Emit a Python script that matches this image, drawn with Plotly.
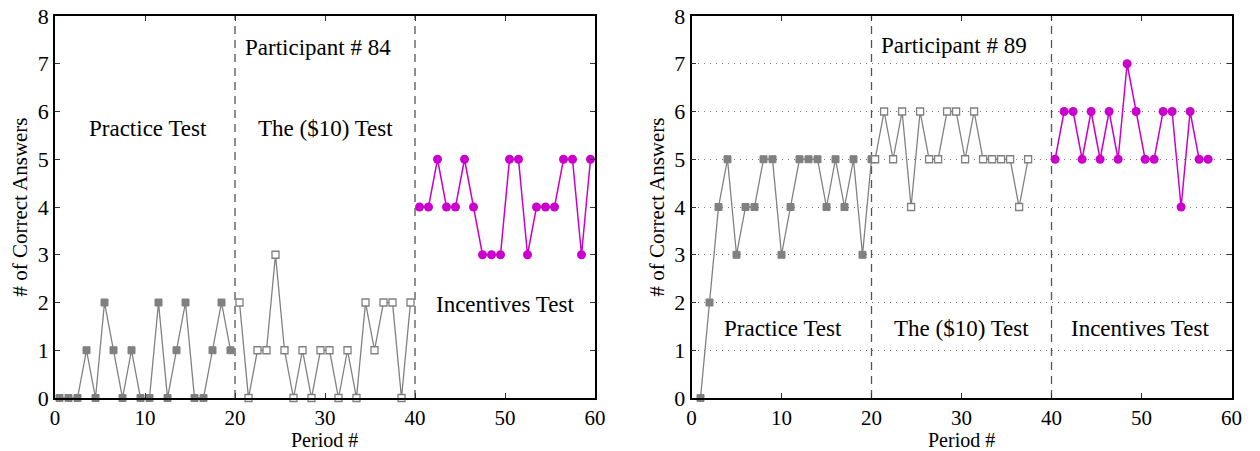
import plotly.graph_objects as go

# ---- data: participant 84 (left) ----
p84_practice_x = [0.5 + i for i in range(20)]
p84_practice_y = [0, 0, 0, 1, 0, 2, 1, 0, 1, 0, 0, 2, 0, 1, 2, 0, 0, 1, 2, 1]
p84_ten_x = [20.5 + i for i in range(20)]
p84_ten_y = [2, 0, 1, 1, 3, 1, 0, 1, 0, 1, 1, 0, 1, 0, 2, 1, 2, 2, 0, 2]
p84_inc_x = [40.5 + i for i in range(20)]
p84_inc_y = [4, 4, 5, 4, 4, 5, 4, 3, 3, 3, 5, 5, 3, 4, 4, 4, 5, 5, 3, 5]

# ---- data: participant 89 (right) ----
p89_practice_x = [1 + i for i in range(20)]
p89_practice_y = [0, 2, 4, 5, 3, 4, 4, 5, 5, 3, 4, 5, 5, 5, 4, 5, 4, 5, 3, 5]
p89_ten_x = [20.4 + i for i in range(18)]
p89_ten_y = [5, 6, 5, 6, 4, 6, 5, 5, 6, 6, 5, 6, 5, 5, 5, 5, 4, 5]
p89_inc_x = [40.4 + i for i in range(18)]
p89_inc_y = [5, 6, 6, 5, 6, 5, 6, 5, 7, 6, 5, 5, 6, 6, 4, 6, 5, 5]

x_ticks = [0, 10, 20, 30, 40, 50, 60]
y_ticks = [0, 1, 2, 3, 4, 5, 6, 7, 8]
phase_bounds = [20, 40]

GRAY = "#808080"
MAG = "#CC00CC"
FONT = "Liberation Serif, Times New Roman, serif"

fig = go.Figure()

def add_panel(xa, ya, px, py, tx, ty, ix, iy):
    fig.add_trace(go.Scatter(x=px, y=py, mode="lines+markers", xaxis=xa, yaxis=ya,
                             line=dict(color=GRAY, width=1.3),
                             marker=dict(symbol="square", size=7, color=GRAY,
                                         line=dict(color=GRAY, width=1)),
                             cliponaxis=False, showlegend=False))
    fig.add_trace(go.Scatter(x=tx, y=ty, mode="lines+markers", xaxis=xa, yaxis=ya,
                             line=dict(color=GRAY, width=1.3),
                             marker=dict(symbol="square", size=7, color="white",
                                         line=dict(color=GRAY, width=1.3)),
                             cliponaxis=False, showlegend=False))
    fig.add_trace(go.Scatter(x=ix, y=iy, mode="lines+markers", xaxis=xa, yaxis=ya,
                             line=dict(color=MAG, width=1.5),
                             marker=dict(symbol="circle", size=9, color=MAG,
                                         line=dict(color=MAG, width=0)),
                             cliponaxis=False, showlegend=False))

add_panel("x", "y", p84_practice_x, p84_practice_y, p84_ten_x, p84_ten_y, p84_inc_x, p84_inc_y)
add_panel("x2", "y2", p89_practice_x, p89_practice_y, p89_ten_x, p89_ten_y, p89_inc_x, p89_inc_y)

for xr, yr in [("x", "y"), ("x2", "y2")]:
    for b in phase_bounds:
        fig.add_shape(type="line", xref=xr, yref=yr, x0=b, x1=b, y0=0, y1=8,
                      line=dict(color="#555555", width=1.3, dash="8px,6px"), layer="below")

ax_common = dict(range=[0, 60], tickvals=x_ticks, ticks="inside", ticklen=5,
                 tickcolor="#333", showline=True, linecolor="black", linewidth=1.5,
                 mirror="ticks", showgrid=False, zeroline=False, automargin=False,
                 tickfont=dict(family=FONT, size=21, color="black"))
ay_common = dict(range=[0, 8], tickvals=y_ticks, ticks="inside", ticklen=5,
                 tickcolor="#333", showline=True, linecolor="black", linewidth=1.5,
                 mirror="ticks", zeroline=False, automargin=False,
                 tickfont=dict(family=FONT, size=22, color="black"),
                 title=dict(text="# of Correct Answers",
                            font=dict(family=FONT, size=21, color="black"), standoff=4))

xd1 = [55 / 1260, 595 / 1260]
xd2 = [691.5 / 1260, 1231.5 / 1260]
yd = [(451 - 398) / 451, (451 - 16) / 451]

fig.update_layout(
    width=1260, height=451, margin=dict(l=0, r=0, t=0, b=0, autoexpand=False),
    paper_bgcolor="white", plot_bgcolor="white",
    xaxis=dict(domain=xd1, anchor="y", **ax_common),
    yaxis=dict(domain=yd, anchor="x", showgrid=False, **ay_common),
    xaxis2=dict(domain=xd2, anchor="y2", **ax_common),
    yaxis2=dict(domain=yd, anchor="x2", showgrid=True, gridcolor="#777777",
                griddash="1px,5px", gridwidth=1, **ay_common),
)

# x-axis titles placed just under the tick labels
for xd in (xd1, xd2):
    fig.add_annotation(x=(xd[0] + xd[1]) / 2, y=(451 - 440) / 451, xref="paper", yref="paper",
                       text="Period #", showarrow=False, xanchor="center", yanchor="middle",
                       font=dict(family=FONT, size=20, color="black"))

texts = [
    ("x", "y", 10.3, 5.65, "Practice Test"),
    ("x", "y", 30, 5.65, "The ($10) Test"),
    ("x", "y", 29.2, 7.33, "Participant # 84"),
    ("x", "y", 50, 1.95, "Incentives Test"),
    ("x2", "y2", 29.2, 7.39, "Participant # 89"),
    ("x2", "y2", 10.2, 1.45, "Practice Test"),
    ("x2", "y2", 30, 1.45, "The ($10) Test"),
    ("x2", "y2", 49.8, 1.45, "Incentives Test"),
]
for xr, yr, xv, yv, t in texts:
    fig.add_annotation(x=xv, y=yv, xref=xr, yref=yr, text=t, showarrow=False,
                       font=dict(family=FONT, size=23, color="black"),
                       bgcolor="rgba(255,255,255,0)")

fig.write_html("out.html")
